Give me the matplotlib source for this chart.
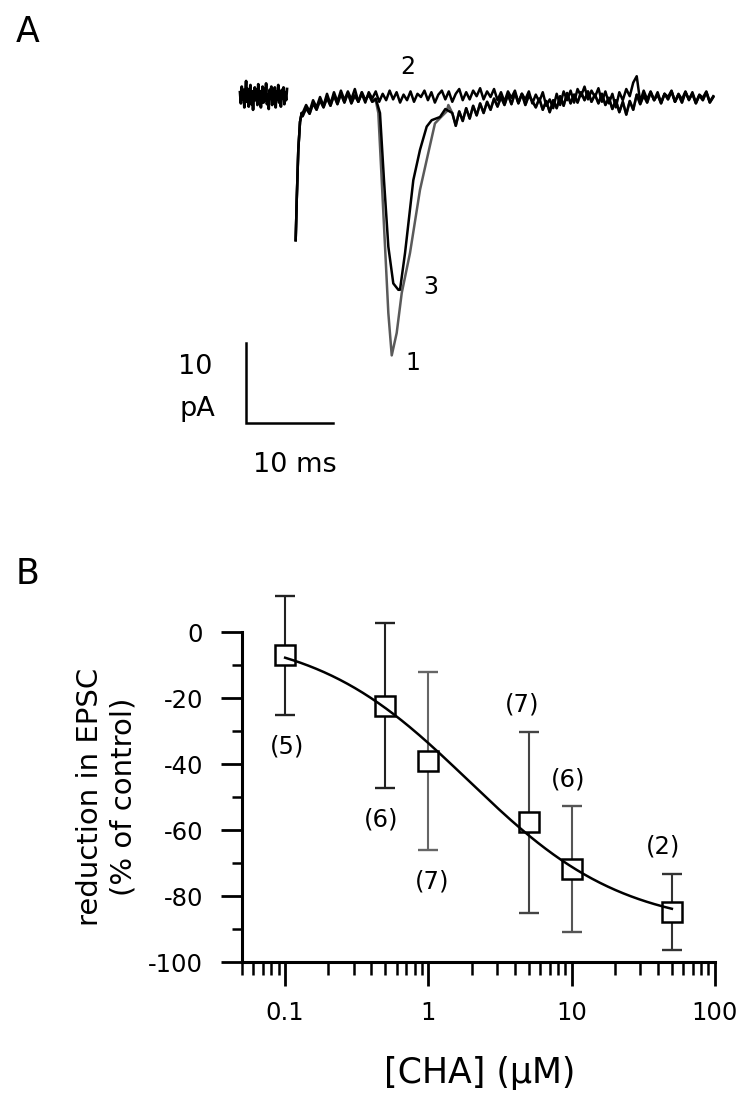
import matplotlib
matplotlib.use("Agg")
import matplotlib.pyplot as plt
import numpy as np
from matplotlib.ticker import FixedLocator, LogLocator, NullFormatter

plt.rcParams['font.family'] = ['DejaVu Sans']
plt.rcParams['axes.unicode_minus'] = False

W, H = 750, 1109

# ---- panel A: EPSC traces (time in ms, current in pA) ----
pre_dt = 0.1
pre_noise = [0.6, -0.8, 1.3, -0.3, 0.9, -1.3, 0.4, 2.0, -0.6, 1.0,
             -1.2, 0.3, 1.5, -0.9, 0.7, -1.6, 0.6, 1.2, -0.4, 0.9,
             -1.0, 1.6, -0.3, 0.7, -1.3, 0.4, 1.3, -0.7, 1.0, -0.4,
             1.7, -0.9, 0.3, -1.5, 0.9, 0.1, 1.3, -1.0, 0.6, -0.6,
             1.2, -1.3, 0.7, -0.3, 1.5, -0.7, 0.4, -1.2, 0.9, -0.1,
             1.2, -0.9, 0.6, -0.4, 1.0]

artifact_t = [6.40, 6.52, 6.70, 6.90, 7.09]
artifact_i = [-17.9, -12.9, -6.6, -3.1, -2.0]

post_t0 = 7.2
post_dt = 0.4
trace2 = [-2.0, -1.0, -1.8, -0.4, -1.3, 0.0, -1.1, 0.4, -0.9, 0.6,
          -0.6, 0.8, -0.4, 0.7, -0.3, 1.0, -0.6, 0.4, -0.7, 0.6,
          -0.2, 0.7, -0.6, 0.4, -0.4, 0.8, -0.3, 0.6, -0.7, 0.3,
          -0.4, 0.7, -0.6, 0.4, 0.0, 0.8, -0.4, 0.6, -0.7, 0.3,
          0.8, -0.3, 0.7, -0.6, 0.4, 1.0, -0.4, 0.6, -0.3, 0.8,
          0.1, 1.1, -0.3, 0.7, 0.0, 1.0, -0.4, 0.6, -0.6, 0.7,
          -0.1, 0.8, -0.7, 0.4, -0.3, 0.7, -0.8, 0.3, -0.6, 0.6,
          -1.1, -0.3, -1.4, 0.4, -1.0, 0.7, -0.4, 0.8, -0.7, 1.0,
          0.1, 1.3, -0.3, 0.8, 0.0, 1.1, -0.6, 0.7, -0.8, 0.4,
          -1.3, 0.6, -0.4, 1.0, 0.1, 1.8, 2.6, -0.6, 0.8, -0.3,
          0.7, -0.4, 0.6, -0.7, 0.4, 0.0, 0.8, -0.6, 0.4, -0.3,
          0.7, -0.4, 0.6, -0.7, 0.3, -0.1, 0.7, -0.6, 0.1]

# traces 1 and 3 share the stretch before the EPSC and the late tail
early13 = [-2.4, -1.4, -2.1, -0.8, -1.6, -0.4, -1.3, -0.1, -1.1, 0.2,
           -0.9, 0.4, -0.7, 0.5, -0.8, 0.2, -0.6, 0.6, -0.4, 0.3, -0.6]

epsc1_t = [15.6, 15.9, 16.29, 16.67, 17.05, 17.44, 18.01, 18.59, 19.54,
           20.69, 21.64, 22.41, 23.2, 23.76, 23.95]
epsc1_i = [-0.4, -2.0, -10.4, -18.7, -27.0, -32.3, -29.5, -24.5, -19.5,
           -11.6, -7.0, -3.3, -2.4, -1.8, -1.0]

epsc3_t = [15.6, 16.09, 16.55, 17.05, 17.62, 18.2, 18.39, 18.97, 19.92,
           20.69, 21.46, 22.03, 22.99, 23.6]
epsc3_i = [-0.2, -2.0, -10.4, -18.7, -23.3, -24.1, -24.1, -19.5, -10.4,
           -6.6, -3.7, -2.9, -2.5, -1.5]

tail_t0 = 24.4
tail13 = [-2.0, -3.6, -1.8, -3.0, -1.4, -2.7, -1.1, -2.3, -0.8, -2.0,
          -0.6, -1.6, -0.2, -1.2, 0.0, -1.0, 0.3, -0.9, 0.5, -0.8,
          0.4, -1.0, 0.2, -0.5, -1.3, -0.2, -1.6, -0.5, -1.9, -0.4,
          -1.4, 0.1, -1.1, 0.5, -0.8, 0.3, -0.7, 0.6, -0.4, 0.7,
          -0.6, 0.3, -0.8, 0.4, -1.0, -0.1, -1.5, -0.4, -1.9, -0.6,
          -2.2, -0.5, -1.6, 0.3, -0.9, 0.2, -0.7, 0.6, -0.4, 0.3,
          -0.8, 0.4, -0.3, 0.7, -0.6, 0.3, -0.7, 0.6, -0.3, 0.4,
          -0.8, 0.2, -0.4, 0.6, -0.7, 0.0]

trace_labels = ["1", "2", "3"]

# ---- panel B: dose response ----
cha_conc = [0.1, 0.5, 1, 5, 10, 50]
reduction = [-7.1, -22.3, -39.0, -57.7, -71.8, -84.9]
reduction_err = [18.0, 25.0, 27.0, 27.4, 19.0, 11.6]
n_cells = [5, 6, 7, 7, 6, 2]
# Hill fit drawn through the points
hill_max = 90.0
hill_ic50 = 1.9
hill_n = 0.8


def fx(px):
    return px / W


def fy(py):
    return 1 - py / H


fig = plt.figure(figsize=(W / 100, H / 100), dpi=100)

# panel A: pixel -> data mapping (8.7 px per ms, 8 px per pA)
ms_px, pa_px = 8.7, 8.0
x0_px, base_px = 240, 97
axA = fig.add_axes([fx(230), fy(480), fx(490), 440 / H])
axA.set_xlim((230 - x0_px) / ms_px, (720 - x0_px) / ms_px)
axA.set_ylim(-(480 - base_px) / pa_px, -(40 - base_px) / pa_px)
axA.axis("off")

t_pre = np.arange(len(pre_noise)) * pre_dt
axA.plot(t_pre, pre_noise, color="black", lw=2.0)

t2 = post_t0 + post_dt * np.arange(len(trace2))
t_early = post_t0 + post_dt * np.arange(len(early13))
t_tail = tail_t0 + post_dt * np.arange(len(tail13))

tr2_t = np.concatenate([artifact_t, t2])
tr2_i = np.concatenate([artifact_i, trace2])
tr1_t = np.concatenate([artifact_t, t_early, epsc1_t, t_tail])
tr1_i = np.concatenate([artifact_i, early13, epsc1_i, tail13])
tr3_t = np.concatenate([artifact_t, t_early, epsc3_t, t_tail])
tr3_i = np.concatenate([artifact_i, early13, epsc3_i, tail13])

axA.plot(tr1_t, tr1_i, color="#5a5a5a", lw=1.8)
axA.plot(tr3_t, tr3_i, color="black", lw=1.8)
axA.plot(tr2_t, tr2_i, color="black", lw=1.8)

# trace numbers
axA.text(19.3, 3.75, trace_labels[1], fontsize=17, ha="center", va="center")
axA.text(21.9, -23.7, trace_labels[2], fontsize=17, ha="center", va="center")
axA.text(19.9, -33.3, trace_labels[0], fontsize=17, ha="center", va="center")

# scale bar 10 pA / 10 ms
sb_t, sb_i = 0.7, -40.75
axA.plot([sb_t, sb_t, sb_t + 10], [sb_i + 10, sb_i, sb_i], color="black",
         lw=1.8, solid_joinstyle="miter")
fig.text(fx(195), fy(367), "10", fontsize=19.5, ha="center", va="center")
fig.text(fx(197), fy(409), "pA", fontsize=19.5, ha="center", va="center")
fig.text(fx(295), fy(465), "10 ms", fontsize=19.5, ha="center", va="center")

fig.text(fx(28), fy(32), "A", fontsize=25, ha="center", va="center")
fig.text(fx(28), fy(574), "B", fontsize=25, ha="center", va="center")

# panel B
axB = fig.add_axes([fx(242), fy(962), fx(473), 330 / H])
axB.set_xscale("log")
axB.set_xlim(0.05, 100)
axB.set_ylim(-100, 0)
for s in ["top", "right"]:
    axB.spines[s].set_visible(False)
for s in ["left", "bottom"]:
    axB.spines[s].set_linewidth(2.2)

axB.yaxis.set_major_locator(FixedLocator(np.arange(-100, 1, 20)))
axB.yaxis.set_minor_locator(FixedLocator(np.arange(-90, 0, 20)))
axB.xaxis.set_major_locator(FixedLocator([0.1, 1, 10, 100]))
axB.set_xticklabels(["0.1", "1", "10", "100"])
axB.xaxis.set_minor_locator(LogLocator(base=10, subs=np.arange(2, 10)))
axB.xaxis.set_minor_formatter(NullFormatter())
axB.tick_params(axis="both", which="major", direction="out", width=2.0,
                labelsize=17.5)
axB.tick_params(axis="y", which="major", length=15, pad=13)
axB.tick_params(axis="y", which="minor", length=7, width=1.8)
axB.tick_params(axis="x", which="major", length=17, pad=11)
axB.tick_params(axis="x", which="minor", length=9, width=1.8)

bar_colors = ["#222222", "#222222", "#666666", "#444444", "#555555", "#333333"]
for c, m, e, col in zip(cha_conc, reduction, reduction_err, bar_colors):
    axB.errorbar([c], [m], yerr=[e], fmt="none", ecolor=col, elinewidth=1.5,
                 capsize=7, capthick=1.7, clip_on=False, zorder=2)
axB.plot(cha_conc, reduction, "s", mfc="white", mec="black", ms=14.5, mew=1.8,
         clip_on=False, zorder=3)

xc = np.logspace(np.log10(cha_conc[0]), np.log10(cha_conc[-1]), 200)
fit = -hill_max * xc ** hill_n / (xc ** hill_n + hill_ic50 ** hill_n)
axB.plot(xc, fit, color="black", lw=1.8, zorder=4)

# n labels: below the lower bar for the first three, above the upper for the rest
label_side = [-1, -1, -1, 1, 1, 1]
label_dx = [2, -4, 4, -6, -4, -9]
for c, m, e, n, side, dx in zip(cha_conc, reduction, reduction_err, n_cells,
                               label_side, label_dx):
    off = 22.5 if side < 0 else 19.5
    axB.annotate("(%d)" % n, (c, m + side * e), xytext=(dx * 0.72, side * off),
                 textcoords="offset points", ha="center", va="center",
                 fontsize=17.5, annotation_clip=False)

axB.text(-0.2865, 0.5, "reduction in EPSC\n(% of control)", rotation=90,
         transform=axB.transAxes, ha="center", va="center", fontsize=21,
         multialignment="center", linespacing=1.25)
fig.text(fx(480), fy(1073), "[CHA] (µM)", fontsize=25, ha="center",
         va="center")

fig.savefig("out.png", dpi=100)
